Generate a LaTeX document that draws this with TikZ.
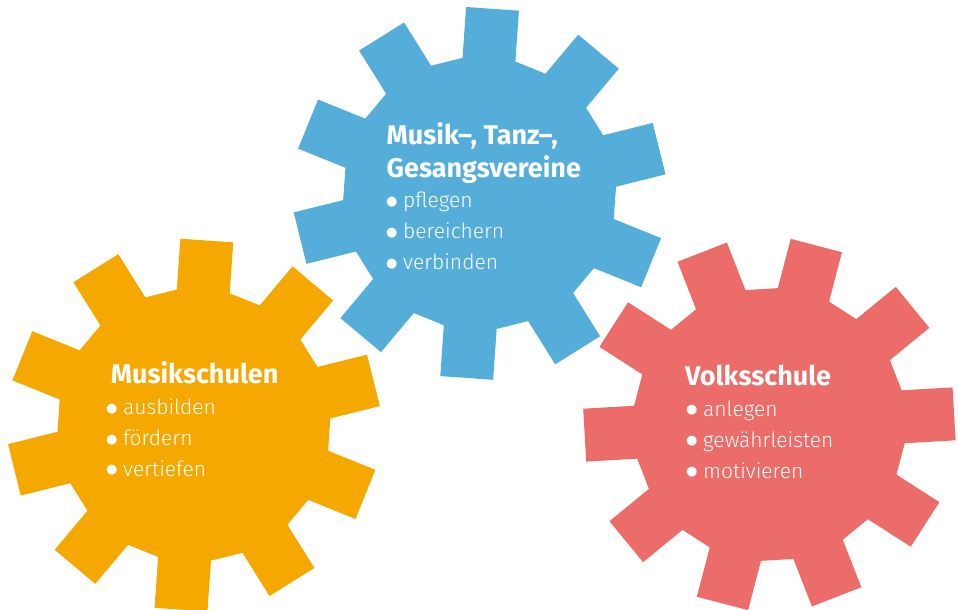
\documentclass[tikz,border=0pt]{standalone}
\usepackage{fontspec}
\setmainfont{Fira Sans}
\newfontfamily\lightfs{Fira Sans Light}
\newfontfamily\dotfs{DejaVu Sans}
\definecolor{gearblue}{RGB}{85,174,218}
\definecolor{gearorange}{RGB}{245,168,0}
\definecolor{gearred}{RGB}{235,108,104}
% one gear: centre x, centre y, rotation, colour
\newcommand{\gearshape}[4]{%
	\begin{scope}[shift={(#1,#2)},rotate=#3]
		\fill[#4] (-11.19:136.6)
			\foreach \k in {0,...,9} {
				-- (\k*36-11.19:136.6) -- (\k*36-8.15:186.9)
				-- (\k*36+8.15:186.9) -- (\k*36+11.19:136.6)
			} -- cycle;
	\end{scope}}
\newcommand{\gdot}{\makebox[18pt][l]{\hspace{1pt}\raisebox{2.8pt}{\dotfs\fontsize{13}{13}\selectfont ●}}}
\begin{document}
\begin{tikzpicture}[
		x=1pt,
		y=1pt
	]
	\tikzset{
		gtitle/.style = {anchor=base west, inner sep=0pt, text=white, font=\bfseries\fontsize{27}{30}\selectfont},
		gitem/.style = {anchor=base west, inner sep=0pt, text=white, font=\lightfs\fontsize{21}{24}\selectfont},
	}
		\useasboundingbox (0,0) rectangle (958,610);
		%
		\gearshape{193.9}{184.9}{86.0}{gearorange}
		\gearshape{769.4}{185.5}{75.3}{gearred}
		\gearshape{479.6}{416.6}{86.0}{gearblue}
		%
		\node[gtitle] at (386.5,465) (vtitlea) {Musik--, Tanz--,};
		\node[gtitle] at (386.5,432) (vtitleb) {Gesangsvereine};
		\node[gitem] at (385,402) (vitema) {\gdot pflegen};
		\node[gitem] at (385,371) (vitemb) {\gdot bereichern};
		\node[gitem] at (385,340) (vitemc) {\gdot verbinden};
		%
		\node[gtitle] at (110.7,226.7) (mtitle) {Musikschulen};
		\node[gitem] at (105,195) (mitema) {\gdot ausbilden};
		\node[gitem] at (105,164) (mitemb) {\gdot fördern};
		\node[gitem] at (105,133.3) (mitemc) {\gdot vertiefen};
		%
		\node[gtitle] at (685,224.3) (stitle) {Volksschule};
		\node[gitem] at (685,193.3) (sitema) {\gdot anlegen};
		\node[gitem] at (685,162.3) (sitemb) {\gdot gewährleisten};
		\node[gitem] at (685,131.7) (sitemc) {\gdot motivieren};
	\end{tikzpicture}
\end{document}
